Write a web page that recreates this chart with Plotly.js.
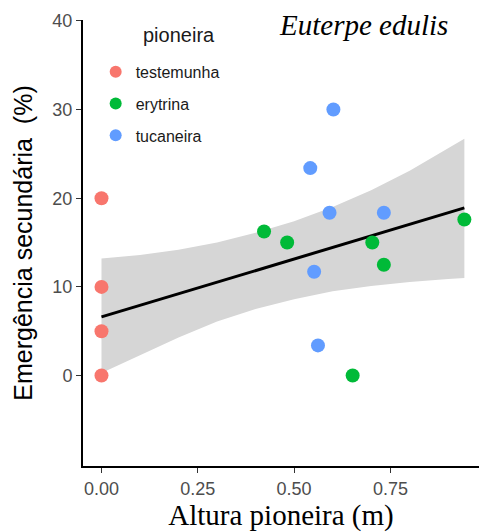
<!DOCTYPE html>
<html>
<head>
<meta charset="utf-8">
<script src="https://cdn.plot.ly/plotly-3.0.1.min.js"></script>
<style>html,body{margin:0;padding:0;background:#fff;}#chart{width:479px;height:532px;}</style>
</head>
<body>
<div id="chart"></div>
<script>
// Points
const testemunhaX = [0, 0, 0, 0];
const testemunhaY = [20, 10, 5, 0];
const erytrinaX = [0.422, 0.482, 0.703, 0.733, 0.942, 0.652];
const erytrinaY = [16.25, 15.0, 15.0, 12.5, 17.6, 0];
const tucaneiraX = [0.602, 0.542, 0.592, 0.733, 0.552, 0.562];
const tucaneiraY = [30.0, 23.4, 18.36, 18.36, 11.7, 3.4];

// Fitted line and confidence band
const fitX = [0, 0.1, 0.2, 0.3, 0.4, 0.5, 0.6, 0.7, 0.8, 0.9, 0.942];
const fitY = [6.62, 7.93, 9.23, 10.54, 11.84, 13.15, 14.45, 15.76, 17.06, 18.37, 18.91];
const bandUpper = [13.2, 13.6, 14.2, 15.0, 16.1, 17.4, 19.0, 20.9, 23.1, 25.6, 26.7];
const bandLower = [0.3, 2.3, 4.3, 6.1, 7.5, 8.6, 9.5, 10.1, 10.55, 10.9, 11.0];

const xTickVals = [0, 0.25, 0.5, 0.75];
const xTickText = ['0.00', '0.25', '0.50', '0.75'];
const yTickVals = [0, 10, 20, 30, 40];

const colors = {testemunha: '#F8766D', erytrina: '#00BA38', tucaneira: '#619CFF'};

const traces = [
  {x: fitX, y: bandLower, mode: 'lines', line: {width: 0, color: 'rgba(0,0,0,0)'}, showlegend: false, hoverinfo: 'skip'},
  {x: fitX, y: bandUpper, mode: 'lines', line: {width: 0, color: 'rgba(0,0,0,0)'}, fill: 'tonexty', fillcolor: '#d6d6d6', showlegend: false, hoverinfo: 'skip'},
  {x: fitX, y: fitY, mode: 'lines', line: {color: '#000000', width: 3}, showlegend: false, hoverinfo: 'skip'},
  {x: testemunhaX, y: testemunhaY, mode: 'markers', name: 'testemunha', legendgroup: 'a', marker: {color: colors.testemunha, size: 14}},
  {x: erytrinaX, y: erytrinaY, mode: 'markers', name: 'erytrina', legendgroup: 'b', marker: {color: colors.erytrina, size: 14}},
  {x: tucaneiraX, y: tucaneiraY, mode: 'markers', name: 'tucaneira', legendgroup: 'c', marker: {color: colors.tucaneira, size: 14}}
];

const layout = {
  width: 479, height: 532,
  margin: {l: 83, r: 0, t: 20, b: 66, pad: 0},
  paper_bgcolor: '#ffffff', plot_bgcolor: '#ffffff',
  font: {family: 'Liberation Sans, Arial, sans-serif', color: '#4d4d4d'},
  xaxis: {
    range: [-0.048, 0.98], tickvals: xTickVals, ticktext: xTickText,
    showgrid: false, zeroline: false, showline: true, linecolor: '#000000', linewidth: 2,
    ticks: 'outside', ticklen: 5, tickwidth: 1.2, tickcolor: '#333333',
    tickfont: {size: 18, color: '#4d4d4d'},
    title: {text: 'Altura pioneira (m)', font: {family: 'Liberation Serif, Times New Roman, serif', size: 29, color: '#000000'}, standoff: 5}
  },
  yaxis: {
    range: [-10.2, 40.1], tickvals: yTickVals,
    showgrid: false, zeroline: false, showline: true, linecolor: '#000000', linewidth: 2,
    ticks: 'outside', ticklen: 5, tickwidth: 1.2, tickcolor: '#333333',
    tickfont: {size: 18, color: '#4d4d4d'},
    title: {text: 'Emergência secundária\u00a0\u00a0(%)', font: {family: 'Liberation Sans, Arial, sans-serif', size: 25, color: '#000000'}, standoff: 13}
  },
  showlegend: true,
  legend: {
    x: 0.032, y: 0.922, xanchor: 'left', yanchor: 'top',
    bgcolor: 'rgba(0,0,0,0)', borderwidth: 0,
    font: {size: 16, color: '#1a1a1a'},
    tracegroupgap: 8, itemsizing: 'constant'
  },
  annotations: [
    {text: 'pioneira', xref: 'paper', yref: 'paper', x: 0.146, y: 0.966, xanchor: 'left', yanchor: 'middle', showarrow: false,
     font: {size: 20, color: '#1a1a1a', family: 'Liberation Sans, Arial, sans-serif'}},
    {text: '<i>Euterpe edulis</i>', xref: 'paper', yref: 'paper', x: 0.708, y: 0.988, xanchor: 'center', yanchor: 'middle', showarrow: false,
     font: {size: 29, color: '#000000', family: 'Liberation Serif, Times New Roman, serif'}}
  ]
};

Plotly.newPlot('chart', traces, layout, {displayModeBar: false, staticPlot: true});
</script>
</body>
</html>
